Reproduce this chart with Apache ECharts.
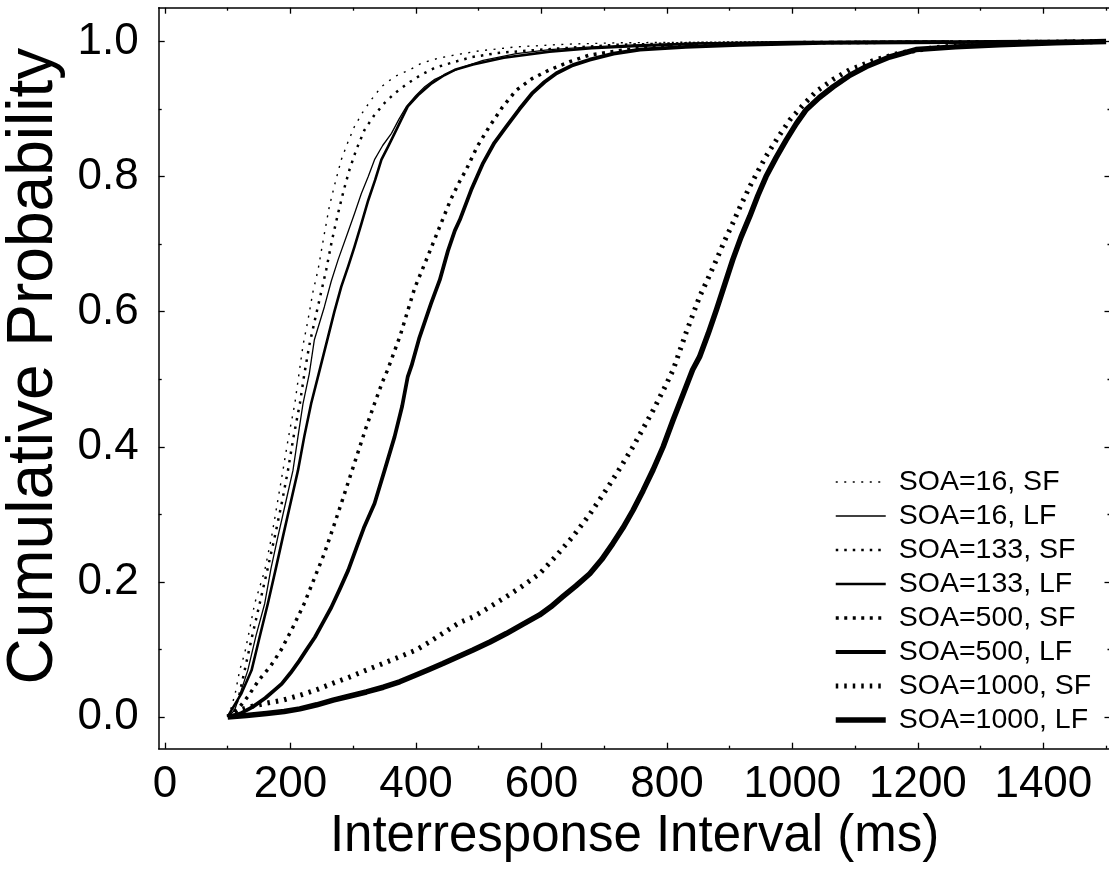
<!DOCTYPE html>
<html>
<head>
<meta charset="utf-8">
<script src="https://cdn.jsdelivr.net/npm/echarts@6/dist/echarts.min.js"></script>
<style>
html,body{margin:0;padding:0;background:#fff;}
#chart{width:1109px;height:872px;}
</style>
</head>
<body>
<div id="chart"></div>
<script>
// ---------- data ----------
const seriesNames = ["SOA=16, SF","SOA=16, LF","SOA=133, SF","SOA=133, LF","SOA=500, SF","SOA=500, LF","SOA=1000, SF","SOA=1000, LF"];

const xMajorTicks = [0,200,400,600,800,1000,1200,1400];
const xMinorTicks = [100,300,500,700,900,1100,1300,1500];
const yMajorTicks = [0,0.2,0.4,0.6,0.8,1.0];
const yMinorTicks = [0.1,0.3,0.5,0.7,0.9];

const soa16SF = [[100,0],[103,0.005],[112,0.035],[119,0.069],[127,0.094],[135,0.13],[143,0.168],[159,0.217],[170,0.267],[179,0.316],[188,0.365],[197,0.415],[207,0.464],[213,0.504],[220,0.55],[228,0.588],[236,0.63],[244,0.662],[253,0.71],[262,0.756],[271,0.79],[281,0.825],[292,0.852],[302,0.874],[315,0.895],[329,0.914],[345,0.933],[366,0.948],[390,0.958],[409,0.968],[435,0.975],[462,0.98],[500,0.986],[560,0.992],[640,0.996],[720,0.998],[850,0.999],[1150,1.0]];

const soa16LF = [[100,0],[111,0.01],[120,0.035],[132,0.069],[145,0.12],[159,0.168],[169,0.22],[180,0.267],[192,0.316],[204,0.365],[212,0.415],[220,0.464],[230,0.508],[238,0.558],[254,0.607],[265,0.645],[276,0.677],[291,0.716],[302,0.745],[313,0.775],[324,0.8],[334,0.825],[347,0.846],[361,0.864],[373,0.885],[385,0.904],[400,0.92],[414,0.933],[430,0.944],[451,0.953],[475,0.962],[507,0.972],[560,0.982],[613,0.988],[680,0.992],[746,0.995],[850,0.998],[1000,0.999],[1190,1.0]];

const soa133SF = [[100,0],[111,0.01],[119,0.035],[127,0.069],[139,0.12],[151,0.168],[163,0.217],[175,0.267],[186,0.316],[196,0.365],[205,0.415],[215,0.464],[222,0.507],[230,0.55],[239,0.588],[248,0.625],[257,0.662],[266,0.705],[276,0.746],[285,0.78],[294,0.81],[305,0.84],[318,0.869],[333,0.89],[350,0.909],[367,0.924],[387,0.938],[407,0.95],[430,0.961],[462,0.97],[490,0.977],[530,0.983],[586,0.987],[650,0.991],[719,0.995],[850,0.998],[1000,0.999],[1230,1.0]];

const soa133LF = [[100,0],[106,0.01],[122,0.035],[138,0.069],[150,0.115],[164,0.168],[176,0.217],[188,0.267],[200,0.316],[212,0.365],[222,0.415],[233,0.464],[245,0.508],[260,0.563],[270,0.6],[281,0.637],[292,0.667],[302,0.696],[313,0.73],[324,0.765],[335,0.795],[345,0.825],[356,0.845],[366,0.864],[377,0.885],[387,0.904],[405,0.922],[425,0.938],[445,0.95],[462,0.958],[491,0.966],[540,0.976],[613,0.985],[680,0.99],[746,0.993],[850,0.997],[1000,0.999],[1250,1.0]];

const soa500SF = [[100,0],[115,0.01],[132,0.03],[150,0.055],[168,0.075],[185,0.099],[204,0.133],[222,0.168],[238,0.205],[254,0.242],[268,0.28],[281,0.316],[294,0.353],[307,0.39],[320,0.427],[334,0.464],[347,0.497],[355,0.514],[375,0.565],[398,0.635],[418,0.68],[438,0.726],[455,0.765],[468,0.79],[480,0.81],[498,0.845],[517,0.874],[538,0.903],[560,0.928],[585,0.945],[613,0.958],[645,0.97],[677,0.98],[720,0.986],[757,0.99],[850,0.995],[1000,0.998],[1200,0.999],[1400,1.0]];

const soa500LF = [[100,0],[120,0.005],[140,0.015],[160,0.028],[175,0.04],[186,0.049],[200,0.065],[214,0.083],[226,0.1],[239,0.118],[252,0.14],[265,0.162],[279,0.19],[292,0.217],[305,0.25],[317,0.28],[334,0.316],[350,0.365],[366,0.415],[378,0.46],[387,0.504],[393,0.52],[405,0.56],[424,0.612],[438,0.647],[451,0.69],[462,0.72],[470,0.736],[488,0.78],[507,0.82],[525,0.85],[544,0.874],[565,0.9],[586,0.924],[605,0.94],[624,0.953],[650,0.965],[677,0.973],[715,0.982],[757,0.988],[830,0.992],[916,0.995],[1050,0.998],[1250,0.999],[1450,1.0]];

const soa1000SF = [[100,0],[118,0.01],[135,0.015],[160,0.02],[188,0.025],[215,0.032],[241,0.04],[268,0.05],[294,0.059],[320,0.069],[347,0.079],[374,0.089],[400,0.099],[420,0.11],[443,0.124],[470,0.14],[491,0.148],[518,0.163],[544,0.178],[570,0.194],[597,0.212],[623,0.238],[650,0.267],[677,0.3],[703,0.336],[725,0.368],[746,0.4],[762,0.427],[778,0.454],[795,0.485],[810,0.514],[831,0.57],[852,0.622],[866,0.65],[879,0.677],[892,0.705],[905,0.731],[918,0.758],[932,0.785],[945,0.808],[958,0.83],[977,0.858],[996,0.884],[1017,0.906],[1038,0.926],[1065,0.944],[1091,0.958],[1130,0.972],[1171,0.983],[1220,0.99],[1277,0.995],[1350,0.998],[1420,0.999],[1500,1.0]];

const soa1000LF = [[100,0],[130,0.002],[162,0.005],[190,0.008],[215,0.012],[242,0.018],[268,0.025],[295,0.031],[321,0.037],[348,0.044],[374,0.052],[400,0.062],[420,0.07],[443,0.079],[467,0.089],[491,0.099],[518,0.111],[544,0.1235],[570,0.137],[597,0.151],[615,0.163],[634,0.178],[655,0.194],[677,0.212],[696,0.233],[714,0.257],[730,0.28],[746,0.306],[762,0.335],[778,0.366],[794,0.4],[810,0.44],[826,0.478],[841,0.514],[852,0.533],[866,0.568],[879,0.603],[892,0.64],[905,0.677],[918,0.71],[932,0.741],[945,0.772],[958,0.8],[974,0.828],[990,0.854],[1006,0.878],[1022,0.899],[1043,0.917],[1065,0.933],[1090,0.949],[1118,0.963],[1155,0.977],[1197,0.988],[1260,0.992],[1330,0.995],[1420,0.998],[1500,1.0]];

const seriesData = [soa16SF, soa16LF, soa133SF, soa133LF, soa500SF, soa500LF, soa1000SF, soa1000LF];
const lineWidths = [1.4, 1.3, 2.5, 2.6, 3.5, 3.8, 5, 5.5];
const lineDashes = [[2,6.5], 'solid', [2.5,6], 'solid', [3,5.5], 'solid', [2.5,6], 'solid'];

// ---------- chart ----------
const FONT = '"Liberation Sans", Arial, Helvetica, sans-serif';
const X_MIN = -10, X_MAX = 1507, Y_MIN = -0.047, Y_MAX = 1.05;
const BLACK = '#000';

function xAx(pos, ticks, len, showLine, labels) {
  return {
    type: 'value', position: pos, min: X_MIN, max: X_MAX,
    axisLine: {show: showLine, onZero: false, lineStyle: {color: BLACK, width: 1.5}},
    axisTick: {show: true, inside: true, length: len, customValues: ticks, lineStyle: {color: BLACK, width: 1.3}},
    axisLabel: labels ? {show: true, customValues: ticks, color: BLACK, fontSize: 44, fontFamily: FONT, margin: 14,
                          formatter: v => String(v)} : {show: false},
    splitLine: {show: false}
  };
}
function yAx(pos, ticks, len, showLine, labels) {
  return {
    type: 'value', position: pos, min: Y_MIN, max: Y_MAX,
    axisLine: {show: showLine, onZero: false, lineStyle: {color: BLACK, width: 1.5}},
    axisTick: {show: true, inside: true, length: len, customValues: ticks, lineStyle: {color: BLACK, width: 1.3}},
    axisLabel: labels ? {show: true, customValues: ticks, color: BLACK, fontSize: 44, fontFamily: FONT, margin: 20,
                          formatter: v => v.toFixed(1)} : {show: false},
    splitLine: {show: false}
  };
}

const xAxes = [
  xAx('bottom', xMajorTicks, 6, true, true),
  xAx('bottom', xMinorTicks, 3, false, false),
  xAx('top', xMajorTicks, 6, true, false),
  xAx('top', xMinorTicks, 3, false, false)
];
xAxes[0].name = 'Interresponse Interval (ms)';
xAxes[0].nameLocation = 'middle';
xAxes[0].nameGap = 55;
xAxes[0].nameTextStyle = {color: BLACK, fontSize: 51, fontFamily: FONT};

const yAxes = [
  yAx('left', yMajorTicks, 6, true, true),
  yAx('left', yMinorTicks, 3, false, false),
  yAx('right', yMajorTicks, 6, true, false),
  yAx('right', yMinorTicks, 3, false, false)
];
yAxes[0].name = 'Cumulative Probability';
yAxes[0].nameLocation = 'middle';
yAxes[0].nameGap = 87;
yAxes[0].nameTextStyle = {color: BLACK, fontSize: 64, fontFamily: FONT, padding: [0, 0, 0, 24]};

const series = seriesNames.map((name, i) => ({
  name: name,
  type: 'line',
  data: seriesData[i],
  xAxisIndex: 0, yAxisIndex: 0,
  symbol: 'none', showSymbol: false,
  smooth: false,
  animation: false,
  color: BLACK,
  lineStyle: {color: BLACK, width: lineWidths[i], type: lineDashes[i], cap: 'butt', join: 'round'},
  z: 2 + (i % 2 === 0 ? 1 : 0)
}));

const chart = echarts.init(document.getElementById('chart'), null, {renderer: 'canvas'});
chart.setOption({
  backgroundColor: '#fff',
  animation: false,
  grid: {left: 158.7, top: 7.7, right: -1.5, bottom: 123.3, containLabel: false, outerBoundsMode: 'none'},
  xAxis: xAxes,
  yAxis: yAxes,
  legend: {
    show: true,
    orient: 'vertical',
    left: 833, top: 467.5,
    padding: 0,
    itemWidth: 50, itemHeight: 14,
    itemGap: 5,
    itemStyle: {opacity: 0},
    lineStyle: {width: 'inherit', type: 'inherit', color: BLACK},
    textStyle: {color: BLACK, fontSize: 28.5, fontFamily: FONT, lineHeight: 28.5, padding: [0,0,0,8]},
    data: seriesNames,
    selectedMode: false
  },
  series: series
});
</script>
</body>
</html>
